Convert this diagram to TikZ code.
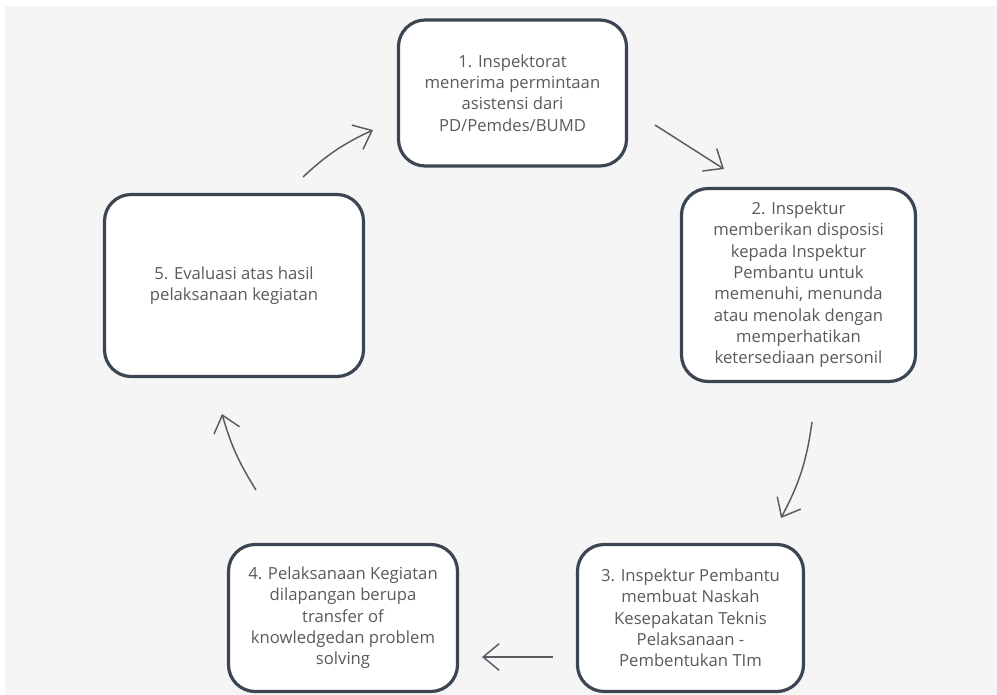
\documentclass[tikz,border=0pt]{standalone}
\usepackage{fontspec}
\setmainfont{Open Sans}
\usetikzlibrary{arrows.meta}
\definecolor{bg}{HTML}{F5F5F5}
\definecolor{boxline}{HTML}{3C4652}
\definecolor{txt}{HTML}{5A5A5A}
\definecolor{arr}{HTML}{575C62}
\begin{document}
\begin{tikzpicture}[x=0.75pt,y=-0.75pt,
  stepbox/.style={draw=boxline, line width=2.4pt, fill=white, rounded corners=20pt,
    align=center, text=txt, font=\fontsize{12.5}{16}\selectfont, inner sep=0pt},
  flow/.style={draw=arr, line width=1.1pt,
    -{Straight Barb[length=12pt,width=20pt,line width=1.1pt]}}]
\useasboundingbox (0,0) rectangle (997,695);
\fill[white] (0,0) rectangle (997,695);
\fill[bg] (5,6) rectangle (997,695);

\node[stepbox, minimum width=171pt, minimum height=109.5pt] (b1) at (512.5,93)
  {1. Inspektorat\\menerima permintaan\\asistensi dari\\PD/Pemdes/BUMD};
\node[stepbox, minimum width=175.5pt, minimum height=144.75pt] (b2) at (798.5,285)
  {2. Inspektur\\memberikan disposisi\\kepada Inspektur\\Pembantu untuk\\memenuhi, menunda\\atau menolak dengan\\memperhatikan\\ketersediaan personil};
\node[stepbox, minimum width=169.5pt, minimum height=110.25pt] (b3) at (690.5,618)
  {3. Inspektur Pembantu\\membuat Naskah\\Kesepakatan Teknis\\Pelaksanaan -\\Pembentukan TIm};
\node[stepbox, minimum width=171.75pt, minimum height=110.25pt] (b4) at (343,618)
  {4. Pelaksanaan Kegiatan\\dilapangan berupa\\transfer of\\knowledgedan problem\\solving};
\node[stepbox, minimum width=194.25pt, minimum height=136.5pt] (b5) at (234,285.5)
  {5. Evaluasi atas hasil\\pelaksanaan kegiatan};

\coordinate (t1) at (303,177); \coordinate (h1) at (373,130);
\coordinate (t2) at (655,125); \coordinate (h2) at (724,169);
\coordinate (t3) at (812,422); \coordinate (h3) at (781,518);
\coordinate (t4) at (553,657); \coordinate (h4) at (482,657);
\coordinate (t5) at (256,490); \coordinate (h5) at (222,414);

\draw[flow] (t1) to[bend left=9] (h1);
\draw[flow] (t2) -- (h2);
\draw[flow] (t3) to[bend left=10] (h3);
\draw[flow] (t4) -- (h4);
\draw[flow] (t5) to[bend left=8] (h5);
\end{tikzpicture}
\end{document}
